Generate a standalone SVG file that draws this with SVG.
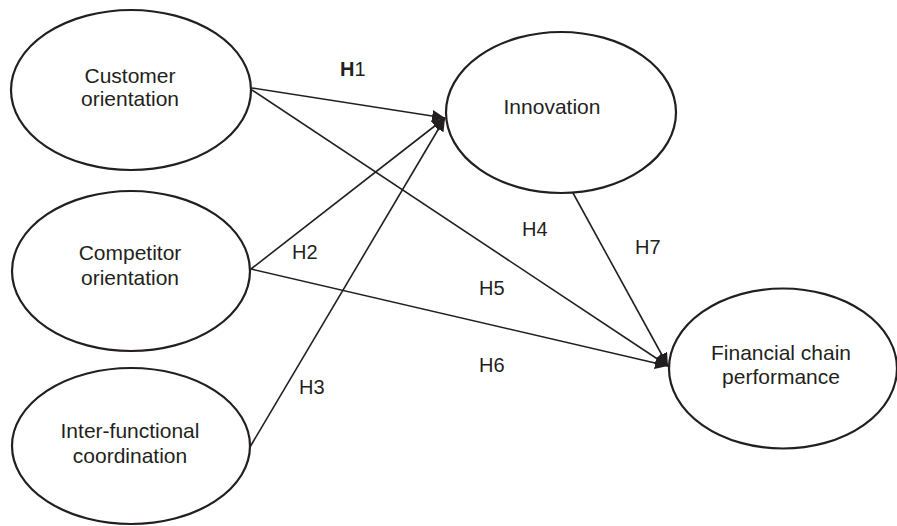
<svg xmlns="http://www.w3.org/2000/svg" width="897" height="526" viewBox="0 0 897 526">
<defs>
<style>
.node ellipse{fill:#fff;stroke:#231f20;stroke-width:2.2}
.t{font-family:"Liberation Sans",Arial,sans-serif;font-size:21px;fill:#231f20;text-anchor:middle}
.lbl{font-family:"Liberation Sans",Arial,sans-serif;font-size:20px;fill:#231f20}
.edges line{stroke:#231f20;stroke-width:1.6;fill:none}
</style>
<marker id="arr" markerUnits="userSpaceOnUse" markerWidth="14" markerHeight="12" refX="13" refY="6" orient="auto">
<path d="M0,0 L13,6 L0,12 Z" fill="#231f20"/>
</marker>
</defs>
<rect width="897" height="526" fill="#fff"/>
<g class="edges">
<line x1="252" y1="88" x2="445" y2="118" marker-end="url(#arr)"/>
<line x1="252" y1="90" x2="668" y2="366" marker-end="url(#arr)"/>
<line x1="251" y1="269" x2="445" y2="118" marker-end="url(#arr)"/>
<line x1="251" y1="269" x2="668" y2="366" marker-end="url(#arr)"/>
<line x1="250" y1="447" x2="445" y2="118" marker-end="url(#arr)"/>
<line x1="573" y1="193" x2="668" y2="366" marker-end="url(#arr)"/>
</g>
<g id="customer" class="node">
<ellipse cx="131" cy="90" rx="120" ry="80"/>
<text class="t" x="130" y="83">Customer</text>
<text class="t" x="130" y="106">orientation</text>
</g>
<g id="competitor" class="node">
<ellipse cx="131" cy="271" rx="119" ry="80"/>
<text class="t" x="130" y="260">Competitor</text>
<text class="t" x="130" y="285">orientation</text>
</g>
<g id="interfunctional" class="node">
<ellipse cx="131" cy="446" rx="119" ry="78"/>
<text class="t" x="130" y="438">Inter-functional</text>
<text class="t" x="130" y="463">coordination</text>
</g>
<g id="innovation" class="node">
<ellipse cx="561" cy="112.5" rx="115" ry="80.5"/>
<text class="t" x="552" y="114">Innovation</text>
</g>
<g id="financial" class="node">
<ellipse cx="783" cy="368.5" rx="114" ry="80"/>
<text class="t" x="781" y="360">Financial chain</text>
<text class="t" x="781" y="384">performance</text>
</g>
<g id="labels">
<text class="lbl" x="340" y="76"><tspan font-weight="bold">H</tspan>1</text>
<text class="lbl" x="292" y="259">H2</text>
<text class="lbl" x="299" y="394">H3</text>
<text class="lbl" x="522" y="236">H4</text>
<text class="lbl" x="479" y="295">H5</text>
<text class="lbl" x="479" y="372">H6</text>
<text class="lbl" x="635" y="254">H7</text>
</g>
</svg>
